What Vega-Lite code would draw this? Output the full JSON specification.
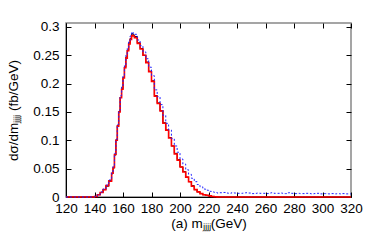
{
  "$schema": "https://vega.github.io/schema/vega-lite/v6.json",
  "width": 285,
  "height": 174,
  "autosize": {"type": "none"},
  "padding": {"left": 66, "top": 23, "right": 39, "bottom": 44},
  "background": "white",
  "config": {
    "view": {"stroke": "#888888", "strokeWidth": 1.5},
    "axis": {
      "labelFont": "Liberation Sans",
      "labelFontSize": 13.5,
      "labelColor": "black",
      "labelOverlap": false,
      "labelFlush": false,
      "titleFont": "Liberation Sans",
      "titleFontSize": 13.5,
      "titleFontWeight": "normal",
      "titleColor": "black",
      "domainColor": "black",
      "tickColor": "black",
      "grid": false
    }
  },
  "data": {"values": [
    {"m":120,"r":0,"b":0,"u":0},{"m":122,"r":0,"b":0,"u":0},{"m":124,"r":0,"b":0,"u":0},{"m":126,"r":0,"b":0,"u":0},
    {"m":128,"r":0,"b":0,"u":0},{"m":130,"r":0,"b":0,"u":0},{"m":132,"r":0,"b":0,"u":0},{"m":134,"r":0,"b":0,"u":0},
    {"m":136,"r":0,"b":0,"u":0},{"m":138,"r":0,"b":0,"u":0},
    {"m":140,"r":0.001,"b":0.001,"u":0.001},{"m":142,"r":0.004,"b":0.004,"u":0.004},
    {"m":144,"r":0.008,"b":0.008,"u":0.009},{"m":146,"r":0.013,"b":0.013,"u":0.014},
    {"m":148,"r":0.020,"b":0.019,"u":0.021},{"m":150,"r":0.028,"b":0.029,"u":0.030},
    {"m":152,"r":0.042,"b":0.041,"u":0.044},{"m":153,"r":0.052,"b":0.051,"u":0.054},
    {"m":154,"r":0.075,"b":0.074,"u":0.077},{"m":155,"r":0.100,"b":0.101,"u":0.102},
    {"m":156,"r":0.125,"b":0.126,"u":0.128},{"m":157,"r":0.150,"b":0.151,"u":0.153},
    {"m":158,"r":0.175,"b":0.176,"u":0.179},{"m":159,"r":0.190,"b":0.191,"u":0.194},
    {"m":160,"r":0.210,"b":0.211,"u":0.214},{"m":161,"r":0.228,"b":0.229,"u":0.232},
    {"m":162,"r":0.245,"b":0.247,"u":0.250},{"m":163,"r":0.258,"b":0.259,"u":0.263},
    {"m":164,"r":0.270,"b":0.272,"u":0.276},{"m":165,"r":0.278,"b":0.280,"u":0.284},
    {"m":166,"r":0.285,"b":0.288,"u":0.291},{"m":167,"r":0.284,"b":0.286,"u":0.289},
    {"m":168,"r":0.281,"b":0.283,"u":0.287},{"m":170,"r":0.271,"b":0.272,"u":0.277},
    {"m":172,"r":0.261,"b":0.262,"u":0.267},{"m":174,"r":0.250,"b":0.250,"u":0.256},
    {"m":176,"r":0.237,"b":0.238,"u":0.244},{"m":178,"r":0.221,"b":0.222,"u":0.229},
    {"m":180,"r":0.204,"b":0.205,"u":0.214},{"m":182,"r":0.178,"b":0.179,"u":0.189},
    {"m":184,"r":0.165,"b":0.166,"u":0.177},{"m":186,"r":0.152,"b":0.152,"u":0.163},
    {"m":188,"r":0.130,"b":0.131,"u":0.144},{"m":190,"r":0.118,"b":0.118,"u":0.130},
    {"m":192,"r":0.104,"b":0.105,"u":0.118},{"m":194,"r":0.090,"b":0.090,"u":0.103},
    {"m":196,"r":0.076,"b":0.077,"u":0.090},{"m":198,"r":0.065,"b":0.066,"u":0.079},
    {"m":200,"r":0.053,"b":0.053,"u":0.067},{"m":202,"r":0.044,"b":0.045,"u":0.058},
    {"m":204,"r":0.035,"b":0.035,"u":0.048},{"m":206,"r":0.027,"b":0.027,"u":0.040},
    {"m":208,"r":0.019,"b":0.020,"u":0.033},{"m":210,"r":0.013,"b":0.013,"u":0.027},
    {"m":212,"r":0.009,"b":0.009,"u":0.022},{"m":214,"r":0.006,"b":0.006,"u":0.018},
    {"m":216,"r":0.004,"b":0.004,"u":0.014},{"m":218,"r":0.003,"b":0.003,"u":0.012},
    {"m":220,"r":0.002,"b":0.002,"u":0.010},{"m":222,"r":0.001,"b":0.001,"u":0.009},
    {"m":224,"r":0.0005,"b":0.0005,"u":0.008},
    {"m":226,"r":0,"b":0,"u":0.007},{"m":228,"r":0,"b":0,"u":0.0075},{"m":230,"r":0,"b":0,"u":0.008},
    {"m":232,"r":0,"b":0,"u":0.007},{"m":234,"r":0,"b":0,"u":0.0065},{"m":236,"r":0,"b":0,"u":0.0075},
    {"m":238,"r":0,"b":0,"u":0.007},{"m":240,"r":0,"b":0,"u":0.0065},{"m":242,"r":0,"b":0,"u":0.0065},
    {"m":244,"r":0,"b":0,"u":0.007},{"m":246,"r":0,"b":0,"u":0.0075},{"m":248,"r":0,"b":0,"u":0.007},
    {"m":250,"r":0,"b":0,"u":0.006},{"m":252,"r":0,"b":0,"u":0.0065},{"m":254,"r":0,"b":0,"u":0.007},
    {"m":256,"r":0,"b":0,"u":0.0065},{"m":258,"r":0,"b":0,"u":0.0065},{"m":260,"r":0,"b":0,"u":0.006},
    {"m":262,"r":0,"b":0,"u":0.007},{"m":264,"r":0,"b":0,"u":0.0075},{"m":266,"r":0,"b":0,"u":0.0065},
    {"m":268,"r":0,"b":0,"u":0.0065},{"m":270,"r":0,"b":0,"u":0.007},{"m":272,"r":0,"b":0,"u":0.006},
    {"m":274,"r":0,"b":0,"u":0.006},{"m":276,"r":0,"b":0,"u":0.0075},{"m":278,"r":0,"b":0,"u":0.0065},
    {"m":280,"r":0,"b":0,"u":0.006},{"m":282,"r":0,"b":0,"u":0.0065},{"m":284,"r":0,"b":0,"u":0.006},
    {"m":286,"r":0,"b":0,"u":0.006},{"m":288,"r":0,"b":0,"u":0.0065},{"m":290,"r":0,"b":0,"u":0.006},
    {"m":292,"r":0,"b":0,"u":0.0055},{"m":294,"r":0,"b":0,"u":0.006},{"m":296,"r":0,"b":0,"u":0.0065},
    {"m":298,"r":0,"b":0,"u":0.0055},{"m":300,"r":0,"b":0,"u":0.006},{"m":302,"r":0,"b":0,"u":0.006},
    {"m":304,"r":0,"b":0,"u":0.0055},{"m":306,"r":0,"b":0,"u":0.006},{"m":308,"r":0,"b":0,"u":0.0055},
    {"m":310,"r":0,"b":0,"u":0.006},{"m":312,"r":0,"b":0,"u":0.0055},{"m":314,"r":0,"b":0,"u":0.006},
    {"m":316,"r":0,"b":0,"u":0.0055},{"m":318,"r":0,"b":0,"u":0.0055},{"m":320,"r":0,"b":0,"u":0.0055}
  ]},
  "resolve": {"axis": {"x": "independent", "y": "independent"}},
  "layer": [
    {
      "mark": {"type": "line", "interpolate": "step-after", "color": "black", "strokeWidth": 1},
      "encoding": {
        "x": {"field": "m", "type": "quantitative",
              "scale": {"domain": [120, 320], "nice": false, "zero": false},
              "axis": {"orient": "bottom", "values": [120,140,160,180,200,220,240,260,280,300,320],
                       "tickSize": -5, "labelPadding": 9, "title": "(a) mⱼⱼⱼⱼ(GeV)", "titlePadding": 2}},
        "y": {"field": "b", "type": "quantitative",
              "scale": {"domain": [0, 0.307], "nice": false},
              "axis": {"orient": "left", "values": [0,0.05,0.1,0.15,0.2,0.25,0.3], "format": "~g",
                       "tickSize": -5, "labelPadding": 12, "title": "dσ/dmⱼⱼⱼⱼ (fb/GeV)", "titlePadding": 12}}
      }
    },
    {
      "mark": {"type": "line", "interpolate": "step-after", "color": "#ff0000", "strokeWidth": 1.6},
      "encoding": {
        "x": {"field": "m", "type": "quantitative", "scale": {"domain": [120, 320], "nice": false, "zero": false}, "axis": null},
        "y": {"field": "r", "type": "quantitative", "scale": {"domain": [0, 0.307], "nice": false}, "axis": null}
      }
    },
    {
      "mark": {"type": "line", "interpolate": "step-after", "color": "#2020ff", "strokeWidth": 1, "strokeDash": [2, 2]},
      "encoding": {
        "x": {"field": "m", "type": "quantitative", "scale": {"domain": [120, 320], "nice": false, "zero": false},
              "axis": {"orient": "top", "values": [120,140,160,180,200,220,240,260,280,300,320],
                       "tickSize": -5, "labels": false, "domain": false, "title": null}},
        "y": {"field": "u", "type": "quantitative", "scale": {"domain": [0, 0.307], "nice": false},
              "axis": {"orient": "right", "values": [0,0.05,0.1,0.15,0.2,0.25,0.3],
                       "tickSize": -5, "labels": false, "domain": false, "title": null}}
      }
    }
  ]
}
